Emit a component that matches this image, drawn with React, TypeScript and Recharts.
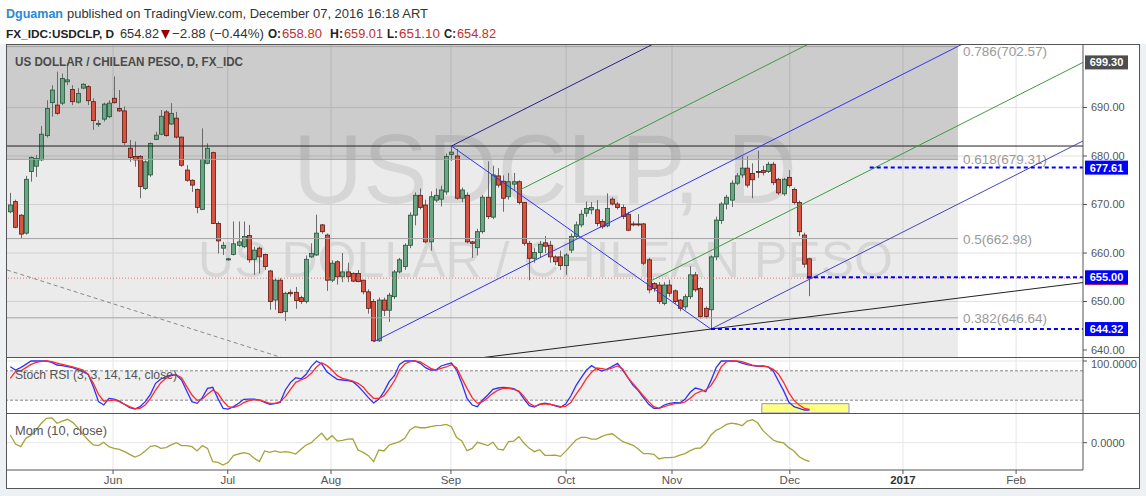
import React from 'react'
import {
  ComposedChart,
  Bar,
  Line,
  XAxis,
  YAxis,
  CartesianGrid,
  ReferenceLine,
  ReferenceArea,
} from 'recharts'

// daily candles, USDCLP May 4 - Dec 7 2016 (index = trading day)
const opens = [
  668.5, 670.6, 667.8, 664.1, 676.8, 677.9, 679.2, 684.2, 691.0, 690.5,
  690.9, 695.3, 693.7, 691.1, 694.0, 694.3, 691.2, 686.5, 687.6, 688.1,
  691.9, 689.8, 689.3, 681.6, 679.9, 679.9, 673.3, 676.1, 683.4, 684.5,
  689.1, 686.6, 687.8, 683.9, 677.1, 675.0, 673.1, 669.0, 678.5, 680.7,
  666.1, 661.0, 658.6, 659.7, 661.6, 661.3, 663.6, 658.7, 661.0, 659.7,
  656.3, 650.3, 654.4, 647.9, 651.9, 651.9, 650.8, 650.0, 659.2, 659.6,
  665.8, 663.7, 654.4, 658.2, 655.1, 656.1, 655.8, 655.8, 654.4, 652.0,
  650.0, 641.9, 650.3, 648.2, 651.0, 656.1, 657.2, 661.6, 667.8, 671.9,
  669.9, 662.3, 670.9, 671.1, 672.6, 680.3, 680.0, 671.3, 671.9, 662.3,
  661.1, 664.4, 671.5, 667.4, 675.9, 674.8, 671.6, 674.2, 674.7, 670.4,
  662.0, 658.9, 660.1, 662.1, 661.6, 659.2, 659.2, 657.4, 660.6, 663.4,
  665.8, 668.2, 668.9, 668.9, 666.5, 665.6, 671.1, 670.1, 669.4, 668.0,
  666.0, 666.0, 666.0, 658.6, 653.7, 653.4, 649.6, 653.4, 652.2, 650.3,
  648.9, 651.0, 655.5, 652.7, 648.6, 648.3, 659.2, 666.7, 670.1, 670.9,
  674.4, 676.1, 677.5, 676.4, 676.8, 677.0, 676.8, 678.3, 675.2, 672.2,
  675.6, 673.1, 670.4, 663.7, 658.8,
]
const highs = [
  672.4, 671.0, 668.0, 675.9, 679.9, 680.2, 686.2, 691.5, 694.6, 697.4,
  697.0, 699.1, 694.6, 694.0, 695.0, 694.6, 691.9, 687.4, 691.0, 691.5,
  696.4, 693.6, 690.2, 683.3, 683.0, 680.2, 679.1, 682.8, 685.0, 689.5,
  689.5, 690.9, 689.1, 684.0, 678.1, 675.2, 673.3, 685.7, 682.6, 680.9,
  666.5, 662.3, 659.0, 666.5, 666.5, 666.5, 665.8, 661.3, 661.3, 659.9,
  656.5, 654.8, 654.8, 652.0, 652.5, 653.0, 651.2, 659.5, 662.0, 667.9,
  666.0, 664.0, 658.5, 658.5, 660.0, 658.0, 656.0, 656.5, 654.5, 652.5,
  650.5, 650.8, 650.8, 651.8, 656.5, 659.0, 662.0, 668.4, 672.5, 673.3,
  671.0, 672.7, 673.3, 673.9, 680.5, 682.06, 681.5, 673.5, 672.5, 662.5,
  665.0, 672.0, 678.9, 678.0, 677.5, 676.0, 676.5, 676.5, 675.0, 670.5,
  662.5, 661.0, 662.5, 663.5, 662.5, 659.5, 660.5, 660.0, 664.0, 666.5,
  668.9, 670.6, 670.5, 670.9, 667.0, 672.3, 671.5, 670.5, 670.0, 668.5,
  666.5, 668.0, 666.2, 659.0, 654.0, 654.0, 654.0, 654.5, 652.5, 650.5,
  651.5, 657.3, 656.1, 653.0, 649.0, 659.5, 667.5, 670.5, 672.0, 675.0,
  676.5, 679.9, 679.9, 678.5, 681.1, 678.0, 678.8, 678.8, 675.5, 675.5,
  677.1, 673.5, 670.8, 664.2, 659.01,
]
const lows = [
  668.2, 665.1, 663.0, 663.8, 674.7, 675.7, 679.0, 683.8, 688.1, 688.5,
  690.5, 694.6, 690.5, 690.8, 693.8, 690.5, 685.4, 686.0, 687.1, 687.8,
  690.8, 689.1, 682.3, 678.8, 677.8, 671.3, 673.0, 675.7, 683.3, 684.3,
  684.0, 686.4, 683.6, 677.8, 674.7, 672.6, 668.2, 668.9, 678.3, 666.0,
  659.9, 659.6, 658.4, 659.5, 661.3, 661.0, 658.0, 655.5, 655.8, 656.5,
  648.3, 648.3, 647.6, 646.0, 651.0, 648.5, 649.5, 649.6, 659.0, 659.4,
  664.0, 652.2, 654.0, 653.5, 654.0, 654.0, 654.0, 654.0, 651.5, 647.5,
  641.7, 641.7, 647.0, 645.8, 650.5, 655.8, 656.5, 661.0, 665.7, 669.0,
  662.0, 660.5, 670.5, 669.6, 672.0, 679.0, 671.0, 670.5, 662.0, 659.0,
  659.5, 664.0, 667.0, 667.0, 673.5, 668.5, 671.0, 673.0, 670.0, 661.5,
  654.4, 658.0, 659.0, 660.0, 658.0, 657.5, 656.5, 655.5, 660.0, 663.0,
  665.3, 667.5, 668.0, 665.5, 665.0, 665.3, 669.8, 669.0, 667.0, 664.5,
  665.5, 665.5, 657.5, 651.7, 652.0, 649.5, 649.2, 651.0, 649.5, 648.0,
  648.3, 650.5, 652.0, 646.5, 646.5, 644.32, 658.5, 666.0, 669.0, 669.5,
  674.0, 675.5, 673.5, 671.3, 675.5, 676.0, 676.5, 674.0, 672.0, 671.8,
  673.5, 670.0, 663.5, 657.0, 651.1,
]
const closes = [
  669.9, 665.3, 663.9, 675.2, 679.7, 679.5, 684.5, 689.8, 693.6, 688.8,
  696.0, 695.7, 691.2, 692.9, 694.8, 691.4, 687.3, 686.7, 690.7, 690.9,
  691.0, 689.3, 682.8, 679.7, 679.2, 673.7, 678.8, 682.6, 684.3, 688.2,
  684.2, 688.8, 683.9, 678.1, 675.0, 674.0, 669.4, 679.3, 681.6, 666.1,
  662.5, 661.6, 658.8, 661.9, 662.3, 663.4, 658.6, 660.6, 659.2, 657.2,
  650.0, 654.4, 647.7, 651.7, 651.6, 650.2, 650.0, 658.7, 659.9, 664.1,
  664.4, 654.4, 657.9, 655.1, 656.1, 655.1, 654.2, 654.1, 652.0, 648.6,
  641.9, 650.3, 648.2, 651.3, 656.1, 658.6, 661.6, 667.8, 671.9, 669.4,
  662.3, 671.6, 671.9, 673.0, 679.9, 680.8, 671.3, 673.0, 662.3, 662.0,
  664.4, 671.5, 667.5, 676.1, 674.0, 671.3, 674.7, 674.7, 670.4, 662.0,
  658.9, 660.1, 661.8, 661.4, 659.2, 658.2, 657.4, 659.6, 663.4, 665.8,
  668.0, 669.2, 669.4, 666.1, 665.4, 669.2, 670.1, 669.4, 667.5, 664.7,
  665.8, 665.8, 657.9, 652.4, 652.7, 650.0, 653.4, 651.7, 650.0, 648.6,
  651.0, 655.5, 652.4, 646.9, 646.9, 659.2, 666.8, 670.1, 671.5, 674.4,
  675.9, 677.5, 674.0, 675.1, 676.6, 676.6, 678.3, 674.5, 672.4, 675.2,
  673.9, 670.4, 664.4, 657.7, 654.82,
]

// Stoch RSI (3, 3, 14, 14, close)
const stochK = [
  88.4, 81.6, 86.4, 93.2, 100, 100, 100, 100, 97.3, 91.8,
  90.5, 88.4, 86.4, 82.3, 78.2, 72.8, 47.6, 17, 10.2, 23.8,
  22.4, 18.4, 11.6, 4.8, 2, 6.8, 17, 32, 54.4, 63.3,
  68, 71.4, 71.4, 61.2, 38.8, 17, 13.6, 25.2, 44.2, 46.3,
  23.8, 3.4, 2, 6.8, 13.6, 21.8, 22.4, 22.4, 20.4, 15.6,
  11.6, 12.9, 15.6, 40.8, 56.5, 66, 63.3, 72.8, 89.1, 100,
  93.9, 78.2, 70, 62.6, 61.2, 59.9, 57.8, 49, 37.4, 25.2,
  14.3, 21.8, 37.4, 57.8, 70, 93.2, 100, 100, 100, 95.2,
  86.4, 81.6, 81.6, 89.8, 93.2, 95.9, 81.6, 54.4, 23.8, 10.2,
  6.8, 20.4, 30.6, 42.2, 44.9, 46.3, 44.9, 43.5, 37.4, 22.4,
  8.8, 6.1, 12, 14, 12, 8.2, 5.4, 12.2, 28.6, 49.7,
  66, 81, 90.5, 83.7, 79.6, 83.7, 89.1, 95.2, 81.6, 66,
  50.3, 39.5, 25.2, 11.6, 3.4, 3.4, 10.2, 13.6, 15, 14.3,
  21.8, 36.1, 44.9, 42.2, 37.4, 59.9, 86.4, 100, 100, 100,
  99.3, 95.9, 92.5, 90.5, 89.1, 89.8, 87.8, 79.6, 59.2, 39.5,
  16.3, 6.8, 3.4, 0, 0,
]
const stochD = [
  64.6, 78.2, 79.6, 86.4, 93.2, 97.3, 99.3, 100, 98.6, 95.9,
  93.2, 90.5, 87.8, 85, 81.6, 72.8, 54.4, 32, 18.4, 19,
  20.4, 17, 11.6, 6.8, 2.7, 3.4, 10.2, 23.8, 40.8, 55.8,
  64.6, 70, 71.4, 66, 47.6, 30.6, 19.7, 22.4, 32, 40.8,
  34, 18.4, 6.8, 4.8, 8.8, 15, 19, 21.1, 20.4, 17,
  13.6, 13.6, 17, 27.2, 42.2, 56.5, 61.2, 66, 74.8, 87.8,
  96.6, 90.5, 81.6, 70, 64.6, 61.9, 59.2, 54.4, 46.9, 34,
  23.8, 23.8, 29.3, 42.9, 59.2, 81.6, 93.9, 98.6, 100, 98,
  91.8, 85, 81.6, 85, 87.8, 92.5, 86.4, 64.6, 44.2, 25.2,
  13.6, 17, 25.2, 34, 40.8, 44.2, 44.2, 42.2, 38.8, 27.2,
  13.6, 7.5, 11, 12.5, 11.6, 9.5, 6.8, 7.5, 15, 32,
  46.9, 63.9, 76.9, 85.7, 84.4, 82.3, 85.7, 89.8, 83.7, 66,
  53.7, 41.5, 28.6, 17, 6.8, 3.4, 6.8, 10.2, 12.9, 13.6,
  16.3, 23.8, 33.3, 38.1, 40.8, 49.7, 66.7, 88.4, 98.6, 100,
  100, 98.6, 95.2, 91.8, 89.8, 89.8, 87.8, 83, 73.5, 56.5,
  35.4, 19.7, 10.2, 3.4, 1.4,
]

// Mom (10, close)
const momentum = [
  8.9, -1.5, -4.6, 5.0, 8.5, 14.6, 22.6, 28.0, 28.6, 22.3,
  24.9, 26.9, 23.4, 17.3, 9.6, 3.1, -2.6, -3.4, 0.5, -4.6,
  -6.5, -7.6, -10.3, -13.4, -16.5, -14.2, -9.5, -4.2, -3.4, -6.5,
  -5.7, -2.6, 0.1, -3.4, -3.4, -4.6, -9.5, -3.4, -6.5, -21.8,
  -22.6, -25.6, -22.6, -14.9, -13.0, -11.5, -12.7, -18.0, -21.8, -9.5,
  -11.0, -9.4, -11.1, -10.3, -11.1, -13.0, -7.6, -2.6, 0, 5.8,
  11.0, 3.1, 8.1, 1.9, 2.7, 4.2, 4.4, -8.4, -11.1, -14.9,
  -21.8, -8.4, -9.5, -2.6, -0.7, 1.2, 5.1, 14.6, 18.4, 17.2,
  17.2, 18.4, 19.6, 19.9, 21.1, 18.4, 5.8, 1.9, -9.2, -6.5,
  0.5, -1.4, -3.4, 0.5, -7.3, -8.4, 1.2, 1.9, 6.9, -0.7,
  -6.5, -10.3, -8.0, -14.5, -14.5, -14.2, -15.7, -10.0, -3.4, 3.1,
  6.2, 6.2, 4.2, 4.2, 7.3, 9.2, 10.3, 5.8, 1.2, -0.7,
  -3.0, -7.3, -12.6, -12.6, -13.4, -18.7, -17.2, -17.2, -16.5, -14.2,
  -12.6, -9.2, -6.5, -6.1, -0.7, 8.8, 14.2, 17.2, 21.1, 22.6,
  21.5, 19.6, 24.9, 26.4, 22.9, 14.2, 8.4, 3.1, 0.8, -0.3,
  -5.7, -9.5, -16.1, -19.5, -21.8,
]

const monthTicks = [19.8, 41.9, 61.8, 84.9, 107.1, 127.5, 150.2, 172.0, 193.8]
const monthLabels = ['Jun', 'Jul', 'Aug', 'Sep', 'Oct', 'Nov', 'Dec', '2017', 'Feb']
const priceTicks = [640, 650, 660, 670, 680, 690]

const xDomain = [-0.636, 206.69]
const priceDomain = [638.56, 702.89]
const stochDomain = [-6.12, 106.12]
const momDomain = [-31.4, 33.0]

// fib retracement levels, drawn up to fibEnd
const fibLevels = [
  { ratio: '0.786', value: 702.57 },
  { ratio: '0.618', value: 679.31 },
  { ratio: '0.5', value: 662.98 },
  { ratio: '0.382', value: 646.64 },
]
const fibEnd = 182.6

// drawings: [x1, y1, x2, y2] in (bar index, price)
const pitchforkLines = [
  { pts: [70, 641.7, 183.5, 703.1], color: '#3434ee' },
  { pts: [85, 682.06, 135, 644.32], color: '#3434ee' },
  { pts: [85, 682.06, 124, 703.16], color: '#24248a' },
  { pts: [135, 644.32, 206.69, 683.1], color: '#4646bb' },
  { pts: [97.5, 672.63, 154, 703.2], color: '#3c9c3c' },
  { pts: [122.5, 653.75, 206.69, 699.3], color: '#3c9c3c' },
]
const trendLine = [90, 638.3, 206.69, 653.91]
const oldTrendLine = [-0.636, 656.5, 53, 638.2]
const resistance = 682.06
const lastPrice = 654.82

const dashedLevels = [
  { from: 165.6, value: 677.61 },
  { from: 153.5, value: 655.0 },
  { from: 135, value: 644.32 },
]
const extraBadges = [{ value: 699.3, text: '699.30', color: '#4d4d4d' }]

const candles = opens.map((o, i) => ({
  i,
  o,
  h: highs[i],
  l: lows[i],
  c: closes[i],
  range: [lows[i], highs[i]],
}))
const stochData = stochK.map((k, i) => ({ i, k, d: stochD[i] }))
const momData = momentum.map((m, i) => ({ i, m }))

const FONT = '"Liberation Sans", Arial, sans-serif'

const Candle = (props: any) => {
  const { x, y, width, height, payload } = props
  if (!payload || height == null) return null
  const { o, h, l, c } = payload
  const top = Math.min(y, y + height)
  const hh = Math.abs(height)
  const ppu = hh / (h - l)
  const cx = Math.round(x + width / 2)
  const bTop = top + (h - Math.max(o, c)) * ppu
  const bBot = top + (h - Math.min(o, c)) * ppu
  const up = c >= o
  return (
    <g>
      <line x1={cx + 0.5} x2={cx + 0.5} y1={top} y2={top + hh} stroke="#6b6b6d" />
      <rect
        x={cx - 1.5}
        y={bTop}
        width={4}
        height={Math.max(bBot - bTop, 1)}
        fill={up ? '#6ba583' : '#d75442'}
        stroke={up ? '#225437' : '#5b1a13'}
        strokeWidth={0.8}
      />
    </g>
  )
}

const badge = (text: string, bg: string) => (props: any) => {
  const vb = props.viewBox || {}
  const x = vb.x + vb.width + 2
  return (
    <g>
      <rect x={x} y={vb.y - 7} width={43} height={14} fill={bg} />
      <text x={x + 21.5} y={vb.y + 4} textAnchor="middle" fill="#fff" fontSize={11} fontWeight="bold">
        {text}
      </text>
    </g>
  )
}

// keeps the topmost label inside the pane
const fibLabel = (text: string) => (props: any) => {
  const vb = props.viewBox || {}
  return (
    <text x={vb.x + vb.width + 5} y={Math.max(vb.y + 5, 11)} fill="#9a9a9a" fontSize={13.5}>
      {text}
    </text>
  )
}

const MonthTick = (props: any) => {
  const { x, y, payload } = props
  const idx = monthTicks.indexOf(payload.value)
  const label = monthLabels[idx] || ''
  const bold = label === '2017'
  return (
    <text x={x} y={y + 8} textAnchor="middle" fontSize={11.5} fill={bold ? '#333' : '#555'} fontWeight={bold ? 'bold' : 'normal'}>
      {label}
    </text>
  )
}

const seg = (p: number[]) => [
  { x: p[0], y: p[1] },
  { x: p[2], y: p[3] },
]

function PriceChart() {
  return (
    <ComposedChart width={1121} height={312} data={candles} margin={{ top: 0, right: 0, bottom: 0, left: 0 }}>
      <XAxis dataKey="i" type="number" domain={xDomain} allowDataOverflow hide ticks={monthTicks} />
      <YAxis
        orientation="right"
        width={45}
        domain={priceDomain}
        allowDataOverflow
        ticks={priceTicks}
        tickFormatter={(v: number) => v.toFixed(2)}
        tick={{ fill: '#555', fontSize: 11 }}
        tickSize={4}
        tickMargin={4}
        axisLine={{ stroke: '#555' }}
        tickLine={{ stroke: '#555' }}
      />
      <CartesianGrid stroke="#e3e3e3" verticalValues={monthTicks} horizontalValues={priceTicks} />
      <ReferenceArea x1={xDomain[0]} x2={fibEnd} y1={priceDomain[0]} y2={679.31} fill="#000" fillOpacity={0.078} ifOverflow="hidden" />
      <ReferenceArea x1={xDomain[0]} x2={fibEnd} y1={679.31} y2={priceDomain[1]} fill="#000" fillOpacity={0.2} ifOverflow="hidden" />
      {fibLevels.map((f) => (
        <ReferenceLine
          key={f.ratio}
          segment={[{ x: xDomain[0], y: f.value }, { x: fibEnd, y: f.value }]}
          stroke="#a3a3a3"
          ifOverflow="visible"
          label={fibLabel(`${f.ratio}(${f.value.toFixed(2)})`)}
        />
      ))}
      <ReferenceLine segment={seg(oldTrendLine)} stroke="#8a8a8a" strokeDasharray="4 3" ifOverflow="hidden" />
      <ReferenceLine y={lastPrice} stroke="#e57373" strokeDasharray="1 2" label={badge('', '#e53935')} />
      <Bar dataKey="range" barSize={5} shape={Candle} isAnimationActive={false} />
      <ReferenceLine y={resistance} stroke="#222" />
      <ReferenceLine segment={seg(trendLine)} stroke="#222" ifOverflow="hidden" />
      {pitchforkLines.map((p, k) => (
        <ReferenceLine key={k} segment={seg(p.pts)} stroke={p.color} ifOverflow="hidden" />
      ))}
      {dashedLevels.map((d) => (
        <ReferenceLine
          key={d.value}
          segment={[{ x: d.from, y: d.value }, { x: xDomain[1], y: d.value }]}
          stroke="#0000ff"
          strokeWidth={2}
          strokeDasharray="4 3"
          ifOverflow="visible"
          label={badge(d.value.toFixed(2), '#0000ff')}
        />
      ))}
      {extraBadges.map((b) => (
        <ReferenceLine key={b.text} y={b.value} stroke="none" label={badge(b.text, b.color)} />
      ))}
    </ComposedChart>
  )
}

function StochChart() {
  return (
    <ComposedChart width={1131} height={55} data={stochData} margin={{ top: 0, right: 0, bottom: 0, left: 0 }}>
      <XAxis dataKey="i" type="number" domain={xDomain} allowDataOverflow hide ticks={monthTicks} />
      <YAxis
        orientation="right"
        width={55}
        domain={stochDomain}
        allowDataOverflow
        ticks={[0, 100]}
        tickFormatter={(v: number) => v.toFixed(4)}
        tick={{ fill: '#555', fontSize: 11 }}
        tickSize={4}
        tickMargin={4}
        axisLine={{ stroke: '#555' }}
        tickLine={{ stroke: '#555' }}
      />
      <CartesianGrid stroke="#e6e6e6" verticalValues={monthTicks} horizontalValues={[0, 100]} />
      <ReferenceArea y1={20} y2={80} fill="#efefef" fillOpacity={1} ifOverflow="hidden" />
      <ReferenceLine y={80} stroke="#888" strokeDasharray="3 2" />
      <ReferenceLine y={20} stroke="#888" strokeDasharray="3 2" />
      <ReferenceArea x1={144.8} x2={161.6} y1={stochDomain[0]} y2={12.9} fill="#ffff80" fillOpacity={1} stroke="#8c8cf0" ifOverflow="hidden" />
      <Line dataKey="k" stroke="#3030ff" strokeWidth={1.3} dot={false} activeDot={false} isAnimationActive={false} />
      <Line dataKey="d" stroke="#ff2a2a" strokeWidth={1.3} dot={false} activeDot={false} isAnimationActive={false} />
    </ComposedChart>
  )
}

function MomChart() {
  return (
    <ComposedChart width={1131} height={74} data={momData} margin={{ top: 0, right: 0, bottom: 0, left: 0 }}>
      <XAxis
        dataKey="i"
        type="number"
        domain={xDomain}
        allowDataOverflow
        ticks={monthTicks}
        interval={0}
        height={18}
        tick={MonthTick}
        tickSize={4}
        axisLine={{ stroke: '#555' }}
        tickLine={{ stroke: '#555' }}
      />
      <YAxis
        orientation="right"
        width={55}
        domain={momDomain}
        allowDataOverflow
        ticks={[0]}
        tickFormatter={(v: number) => v.toFixed(4)}
        tick={{ fill: '#555', fontSize: 11 }}
        tickSize={4}
        tickMargin={4}
        axisLine={{ stroke: '#555' }}
        tickLine={{ stroke: '#555' }}
      />
      <CartesianGrid stroke="#e6e6e6" verticalValues={monthTicks} horizontalValues={[0]} />
      <Line dataKey="m" stroke="#a4a43a" strokeWidth={1.3} dot={false} activeDot={false} isAnimationActive={false} />
    </ComposedChart>
  )
}

const red = '#c0302b'

export default function App() {
  return (
    <div style={{ position: 'absolute', left: 0, top: 0, width: 1146, height: 496, background: '#fff', overflow: 'hidden', fontFamily: FONT }}>
      {/* header */}
      <svg width={1146} height={44} style={{ position: 'absolute', left: 0, top: 0 }}>
        <g fontSize={13} fill="#333">
          <text x={6} y={18} fill="#2a8ad4" fontWeight="bold" fontSize={12.5} textLength={57} lengthAdjust="spacingAndGlyphs">Dguaman</text>
          <text x={67} y={18} textLength={361} lengthAdjust="spacingAndGlyphs">published on TradingView.com, December 07, 2016 16:18 ART</text>
          <text x={6} y={38} fontWeight="bold" fontSize={11.5} fill="#222" textLength={108} lengthAdjust="spacingAndGlyphs">FX_IDC:USDCLP, D</text>
          <text x={120} y={38} fontSize={12.5} textLength={39} lengthAdjust="spacingAndGlyphs">654.82</text>
          <polygon points="161,30 170,30 165.5,39" fill="#9b0000" />
          <text x={172} y={38} textLength={92} lengthAdjust="spacingAndGlyphs">−2.88 (−0.44%)</text>
          <text x={268} y={38} fontWeight="bold" fill="#222" fontSize={12} textLength={13} lengthAdjust="spacingAndGlyphs">O:</text>
          <text x={282} y={38} fill={red} fontSize={12.5} textLength={40} lengthAdjust="spacingAndGlyphs">658.80</text>
          <text x={330} y={38} fontWeight="bold" fill="#222" fontSize={12} textLength={13} lengthAdjust="spacingAndGlyphs">H:</text>
          <text x={344} y={38} fill={red} fontSize={12.5} textLength={39} lengthAdjust="spacingAndGlyphs">659.01</text>
          <text x={387} y={38} fontWeight="bold" fill="#222" fontSize={12} textLength={11} lengthAdjust="spacingAndGlyphs">L:</text>
          <text x={399} y={38} fill={red} fontSize={12.5} textLength={41} lengthAdjust="spacingAndGlyphs">651.10</text>
          <text x={444} y={38} fontWeight="bold" fill="#222" fontSize={12} textLength={12} lengthAdjust="spacingAndGlyphs">C:</text>
          <text x={457} y={38} fill={red} fontSize={12.5} textLength={39} lengthAdjust="spacingAndGlyphs">654.82</text>
        </g>
      </svg>

      {/* outer page + frame */}
      <div style={{ position: 'absolute', left: 0, top: 44, width: 1146, height: 452, background: '#edf1f4' }} />
      <div style={{ position: 'absolute', left: 6, top: 44, width: 1134, height: 445, background: '#fff', border: '1px solid #555', boxSizing: 'border-box' }} />

      {/* watermark, behind the candles */}
      <svg width={1146} height={360} style={{ position: 'absolute', left: 0, top: 0 }}>
        <g fill="#000" fillOpacity={0.085}>
          <text x={293} y={203} fontSize={98} textLength={504} lengthAdjust="spacingAndGlyphs">USDCLP, D</text>
          <text x={198} y={277} fontSize={50} textLength={695} lengthAdjust="spacingAndGlyphs">US DOLLAR / CHILEAN PESO</text>
        </g>
      </svg>

      <div style={{ position: 'absolute', left: 7, top: 45 }}>
        <PriceChart />
      </div>
      <div style={{ position: 'absolute', left: 6, top: 357, width: 1134, height: 1, background: '#555' }} />
      <div style={{ position: 'absolute', left: 7, top: 358 }}>
        <StochChart />
      </div>
      <div style={{ position: 'absolute', left: 6, top: 413, width: 1134, height: 1, background: '#555' }} />
      <div style={{ position: 'absolute', left: 7, top: 414 }}>
        <MomChart />
      </div>

      {/* pane legends */}
      <svg width={1146} height={496} style={{ position: 'absolute', left: 0, top: 0, pointerEvents: 'none' }}>
        <text x={15} y={66} fontSize={13} fontWeight="bold" fill="#4a4a4a" textLength={228} lengthAdjust="spacingAndGlyphs">
          US DOLLAR / CHILEAN PESO, D, FX_IDC
        </text>
        <text x={15} y={379} fontSize={12.5} fill="#555" textLength={162} lengthAdjust="spacingAndGlyphs">
          Stoch RSI (3, 3, 14, 14, close)
        </text>
        <text x={15} y={435} fontSize={12.5} fill="#555" textLength={92} lengthAdjust="spacingAndGlyphs">
          Mom (10, close)
        </text>
      </svg>
    </div>
  )
}
